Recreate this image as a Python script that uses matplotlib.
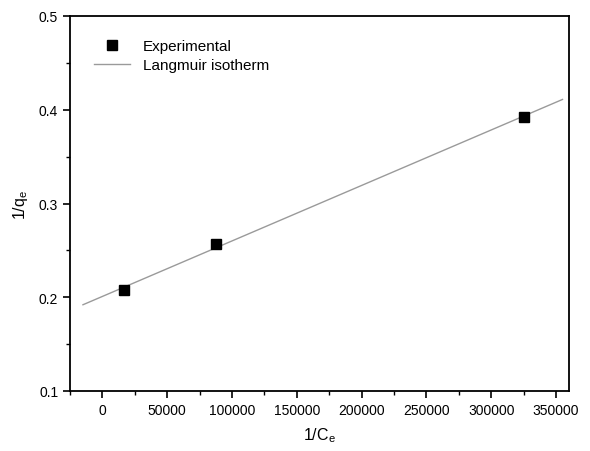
import matplotlib
matplotlib.use("Agg")
import matplotlib.pyplot as plt
from matplotlib.ticker import MultipleLocator

plt.rcParams['font.family'] = ['Liberation Sans', 'DejaVu Sans']

# experimental points
inv_ce = [17000, 88000, 325000]
inv_qe = [0.208, 0.257, 0.392]

# fitted Langmuir line (end points)
fit_x = [-15000, 355000]
fit_y = [0.192, 0.411]

fig = plt.figure(figsize=(5.9, 4.52), dpi=100)
ax = fig.add_axes([70 / 590, 60 / 452, 499 / 590, 375 / 452])

ax.plot(fit_x, fit_y, color='#9a9a9a', linewidth=1.0, label='Langmuir isotherm')
ax.plot(inv_ce, inv_qe, 's', color='black', markersize=7.5, linestyle='none',
        label='Experimental')

ax.set_xlim(-25000, 360000)
ax.set_ylim(0.1, 0.5)
ax.xaxis.set_major_locator(MultipleLocator(50000))
ax.xaxis.set_minor_locator(MultipleLocator(25000))
ax.yaxis.set_major_locator(MultipleLocator(0.1))
ax.yaxis.set_minor_locator(MultipleLocator(0.05))
ax.set_xticks(range(0, 350001, 50000))
ax.set_xticklabels([str(v) for v in range(0, 350001, 50000)])

ax.tick_params(which='major', direction='out', length=5, width=1.2, labelsize=10)
ax.tick_params(which='minor', direction='out', length=3, width=1.0)
for s in ax.spines.values():
    s.set_linewidth(1.3)

ax.set_xlabel('1/C$_\\mathregular{e}$', fontsize=11.5, labelpad=6)
ax.set_ylabel('1/q$_\\mathregular{e}$', fontsize=11.5, labelpad=6)

handles, labels = ax.get_legend_handles_labels()
ax.legend(handles[::-1], labels[::-1], loc='upper left', frameon=False,
          fontsize=11, bbox_to_anchor=(0.02, 0.975), handlelength=2.4,
          labelspacing=0.35)

fig.savefig('out.png', dpi=100)
